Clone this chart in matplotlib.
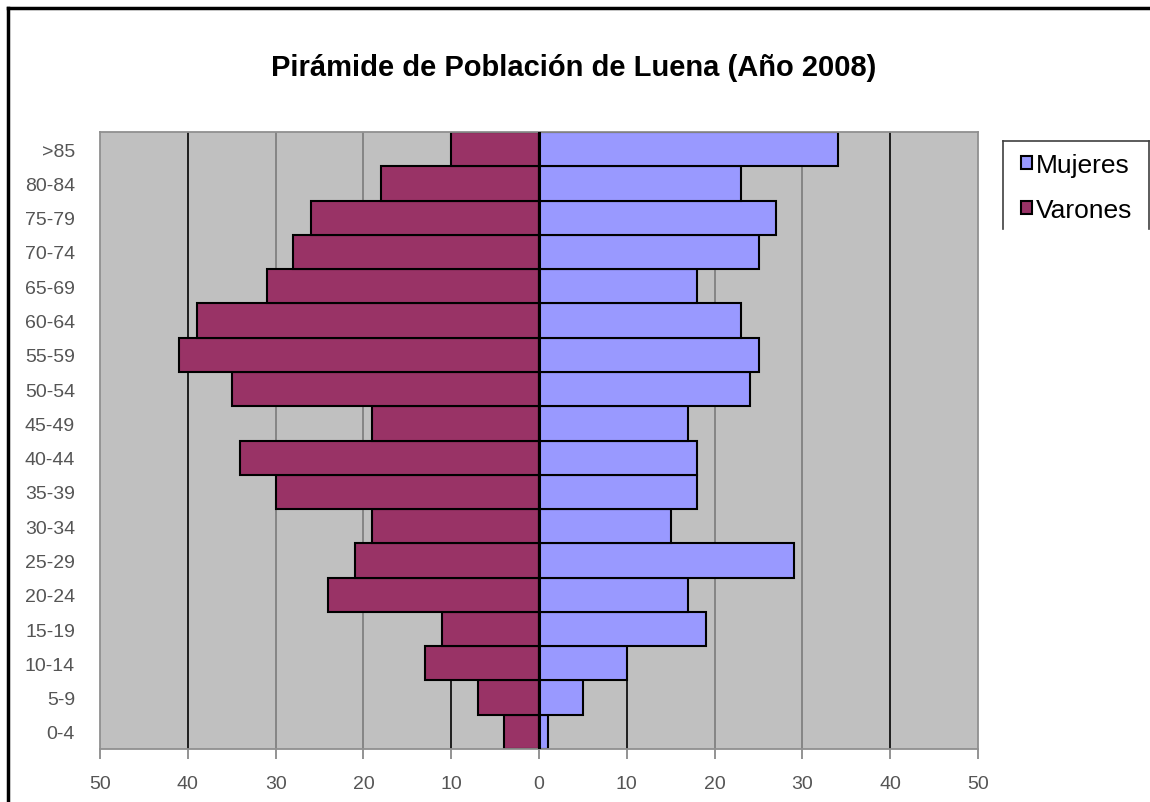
import matplotlib
matplotlib.use("Agg")
import matplotlib.pyplot as plt
from matplotlib.lines import Line2D
from matplotlib.patches import Patch

plt.rcParams['font.family'] = ['Liberation Sans', 'DejaVu Sans']

# age groups, bottom to top
grupos = ['0-4', '5-9', '10-14', '15-19', '20-24', '25-29', '30-34', '35-39',
          '40-44', '45-49', '50-54', '55-59', '60-64', '65-69', '70-74',
          '75-79', '80-84', '>85']
varones = [4, 7, 13, 11, 24, 21, 19, 30, 34, 19, 35, 41, 39, 31, 28, 26, 18, 10]
mujeres = [1, 5, 10, 19, 17, 29, 15, 18, 18, 17, 24, 25, 23, 18, 25, 27, 23, 34]
xticks = [-50, -40, -30, -20, -10, 0, 10, 20, 30, 40, 50]

fig = plt.figure(figsize=(11.5, 8.03), dpi=100)
ax = fig.add_axes([100 / 1150, 1 - 750 / 803, 878 / 1150, 617 / 803])
ax.set_facecolor('#C0C0C0')

# vertical gridlines (some look darker in the original)
for x in xticks[1:-1]:
    c = '#101010' if abs(x) in (10, 40) else '#808080'
    ax.axvline(x, color=c, lw=1.3, zorder=1)

y = range(len(grupos))
ax.barh(y, [-v for v in varones], height=1.0, color='#993366',
        edgecolor='black', linewidth=1.5, zorder=2)
ax.barh(y, mujeres, height=1.0, color='#9999FF',
        edgecolor='black', linewidth=1.5, zorder=2)
ax.axvline(0, color='black', lw=2.2, zorder=3)

ax.set_xlim(-50, 50)
ax.set_ylim(-0.5, len(grupos) - 0.5)
ax.set_xticks(xticks)
ax.set_xticklabels([str(abs(x)) for x in xticks])
ax.set_yticks(list(y))
ax.set_yticklabels(grupos)
ax.tick_params(axis='x', length=7, color='#808080', width=1.2, pad=12,
               labelsize=14, labelcolor='#555555')
ax.tick_params(axis='y', length=0, pad=18, labelsize=14, labelcolor='#555555')
for s in ax.spines.values():
    s.set_color('#909090')
    s.set_linewidth(1.3)

fig.text(574 / 1150, 1 - 68 / 803, 'Pirámide de Población de Luena (Año 2008)',
         ha='center', va='center', fontsize=21, fontweight='bold')

# legend (box is cut off at the bottom in the original)
handles = [Patch(facecolor='#9999FF', edgecolor='black', linewidth=1.5),
           Patch(facecolor='#993366', edgecolor='black', linewidth=1.5)]
fig.legend(handles, ['Mujeres', 'Varones'], loc='upper left',
           bbox_to_anchor=(1000 / 1150, 1 - 133 / 803), frameon=False,
           fontsize=19, handlelength=0.4, handleheight=0.4,
           handletextpad=0.15, labelspacing=0.78, borderpad=0.3)
lx0, lx1 = 1003 / 1150, 1149 / 1150
ly0, ly1 = 1 - 142 / 803, 1 - 230 / 803
for xs, ys in [([lx0, lx1], [ly0, ly0]), ([lx0, lx0], [ly0, ly1]),
               ([lx1, lx1], [ly0, ly1])]:
    fig.add_artist(Line2D(xs, ys, color='#404040', lw=1.2))

# outer chart border
bx, by = 8 / 1150, 1 - 9 / 803
fig.add_artist(Line2D([bx, 1.0], [by, by], color='black', lw=2.5))
fig.add_artist(Line2D([bx, bx], [0.0, by], color='black', lw=2.5))

fig.savefig('out.png', dpi=100, facecolor='white')
